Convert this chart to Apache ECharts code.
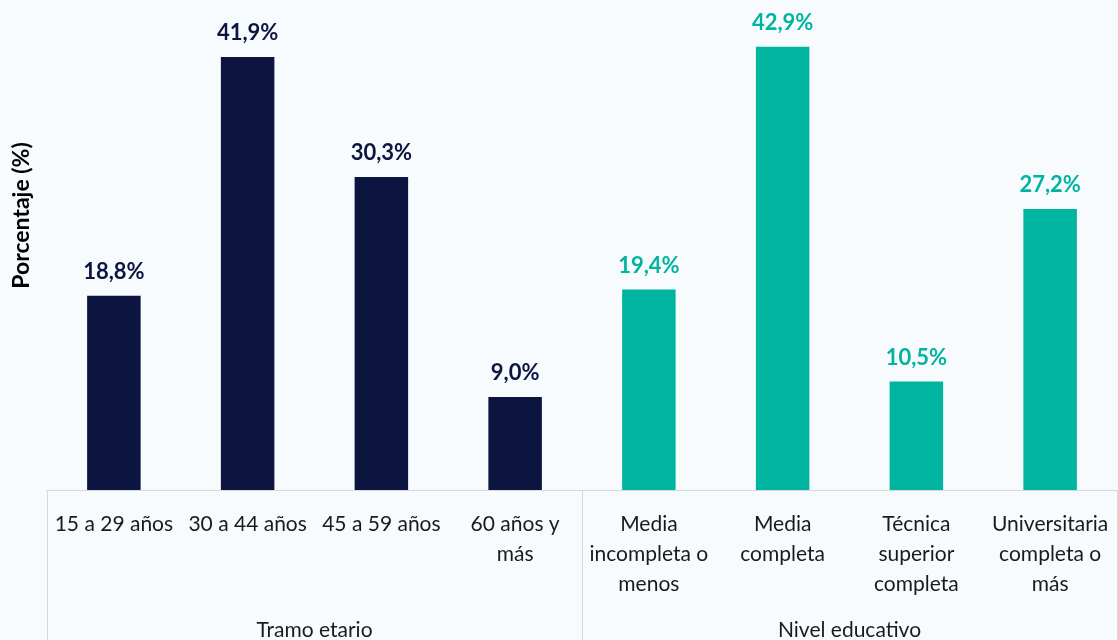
<!DOCTYPE html>
<html>
<head>
<meta charset="utf-8">
<script src="https://cdn.jsdelivr.net/npm/echarts@6/dist/echarts.min.js"></script>
<style>
  html, body { margin: 0; padding: 0; background: #f8fbfd; }
  #chart { width: 1118px; height: 640px; }
</style>
</head>
<body>
<div id="chart"></div>
<script>
const categories = [
  '15 a 29 años', '30 a 44 años', '45 a 59 años', '60 años y\nmás',
  'Media\nincompleta o\nmenos', 'Media\ncompleta', 'Técnica\nsuperior\ncompleta', 'Universitaria\ncompleta o\nmás'
]
const values = [18.8, 41.9, 30.3, 9.0, 19.4, 42.9, 10.5, 27.2]
const groups = ['Tramo etario', 'Nivel educativo']
const groupIndex = [0, 0, 0, 0, 1, 1, 1, 1]

const GROUP_COLORS = ['#0c1440', '#00b5a0']
const FONT = 'Lato, "Open Sans", sans-serif'

const chart = echarts.init(document.getElementById('chart'))

chart.setOption({
  backgroundColor: '#f8fbfd',
  animation: false,
  grid: { left: 47, right: 1, top: 25, bottom: 150, outerBoundsMode: 'none', containLabel: false },
  xAxis: [
    {
      type: 'category',
      data: categories,
      axisLine: { lineStyle: { color: '#d9d9d9', width: 1 } },
      axisTick: { show: false },
      axisLabel: {
        interval: 0,
        margin: 19,
        color: '#1a1a1a',
        fontFamily: FONT,
        fontSize: 21,
        lineHeight: 30
      }
    },
    {
      type: 'category',
      position: 'bottom',
      data: groups,
      axisLine: { show: true, lineStyle: { color: '#d9d9d9' } },
      axisTick: { show: true, length: 150, lineStyle: { color: '#d9d9d9' } },
      axisLabel: {
        margin: 130,
        color: '#1a1a1a',
        fontFamily: FONT,
        fontSize: 21
      }
    }
  ],
  yAxis: {
    type: 'value',
    min: 0,
    max: 45,
    axisLine: { show: false },
    axisTick: { show: false },
    axisLabel: { show: false },
    splitLine: { show: false },
    name: 'Porcentaje (%)',
    nameLocation: 'middle',
    nameGap: 14,
    nameTextStyle: {
      color: '#000',
      fontFamily: FONT,
      fontSize: 23,
      fontWeight: 'bold',
      padding: [0, 0, 0, 84]
    }
  },
  series: [
    {
      type: 'bar',
      data: values,
      barWidth: '40%',
      itemStyle: {
        color: (p) => GROUP_COLORS[groupIndex[p.dataIndex]]
      },
      label: {
        show: true,
        position: 'top',
        distance: 13,
        fontFamily: FONT,
        fontSize: 22,
        fontWeight: 'bold',
        formatter: (p) => p.value.toFixed(1).replace('.', ',') + '%',
        color: 'inherit'
      }
    }
  ]
})
</script>
</body>
</html>
